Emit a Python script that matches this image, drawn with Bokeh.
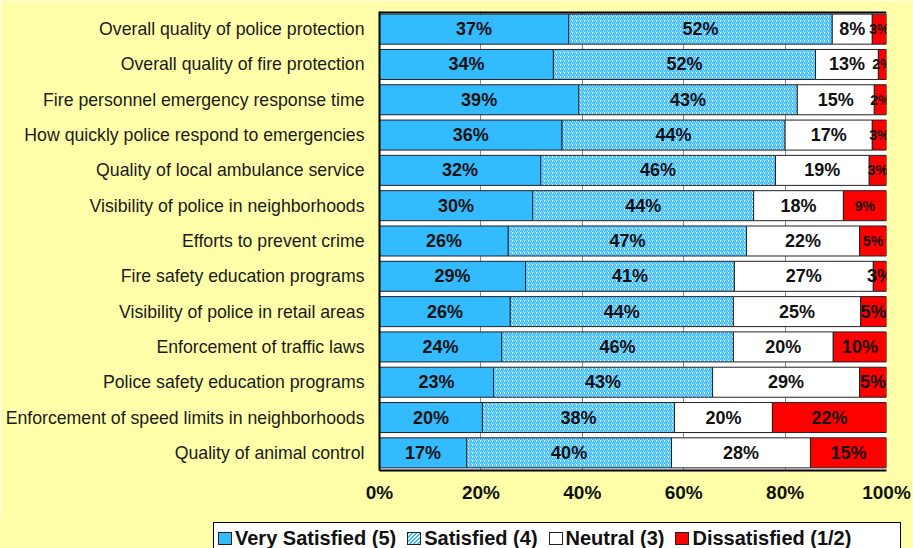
from bokeh.plotting import figure
from bokeh.layouts import column
from bokeh.models import (ColumnDataSource, FactorRange, Range1d, FixedTicker,
                          PrintfTickFormatter, Span, Div)
from bokeh.core.properties import value
from bokeh.embed import file_html
from bokeh.resources import INLINE

# ---------------- data (top row first) ----------------
categories = [
    "Overall quality of police protection",
    "Overall quality of fire protection",
    "Fire personnel emergency response time",
    "How quickly police respond to emergencies",
    "Quality of local ambulance service",
    "Visibility of police in neighborhoods",
    "Efforts to prevent crime",
    "Fire safety education programs",
    "Visibility of police in retail areas",
    "Enforcement of traffic laws",
    "Police safety education programs",
    "Enforcement of speed limits in neighborhoods",
    "Quality of animal control",
]
very_satisfied = [37.3, 34.3, 39.3, 36.0, 31.8, 30.2, 25.4, 28.8, 25.8, 24.1, 22.5, 20.3, 17.2]
satisfied = [52.0, 51.7, 43.1, 44.0, 46.3, 43.6, 47.0, 41.2, 44.0, 45.7, 43.2, 37.9, 40.4]
neutral = [7.9, 12.4, 15.2, 17.2, 18.5, 17.7, 22.3, 27.4, 25.1, 19.7, 29.0, 19.3, 27.4]
dissatisfied = [2.8, 1.6, 2.4, 2.8, 3.4, 8.5, 5.3, 2.6, 5.1, 10.5, 5.3, 22.5, 15.0]

very_satisfied_labels = ["37%", "34%", "39%", "36%", "32%", "30%", "26%", "29%", "26%", "24%", "23%", "20%", "17%"]
satisfied_labels = ["52%", "52%", "43%", "44%", "46%", "44%", "47%", "41%", "44%", "46%", "43%", "38%", "40%"]
neutral_labels = ["8%", "13%", "15%", "17%", "19%", "18%", "22%", "27%", "25%", "20%", "29%", "20%", "28%"]
dissatisfied_labels = ["3%", "2%", "2%", "3%", "3%", "9%", "5%", "3%", "5%", "10%", "5%", "22%", "15%"]

series_names = ["Very Satisfied (5)", "Satisfied (4)", "Neutral (3)", "Dissatisfied (1/2)"]
x_ticks = [0, 20, 40, 60, 80, 100]

# ---------------- styles ----------------
BG = "#FFFFAA"
BLUE = "#33BBFF"
RED = "#FF0000"
FONT = "Liberation Sans"
label_size = "18px"
diss_label_sizes = ["14px"] * 7 + ["18px"] * 6

series = [very_satisfied, satisfied, neutral, dissatisfied]
series_labels = [very_satisfied_labels, satisfied_labels, neutral_labels, dissatisfied_labels]

styles = [
    dict(fill_color=BLUE, line_color="#222222"),
    dict(fill_color="white", line_color="#222222", hatch_pattern="/", hatch_color=BLUE,
         hatch_scale=4, hatch_weight=1.5),
    dict(fill_color="white", line_color="#222222"),
    dict(fill_color=RED, line_color="#222222"),
]
legend_swatch_css = [
    "background:%s;" % BLUE,
    "background:repeating-linear-gradient(135deg,%s 0px,%s 1.3px,#ffffff 1.3px,#ffffff 2.8px);" % (BLUE, BLUE),
    "background:#ffffff;",
    "background:%s;" % RED,
]

# ---------------- main chart ----------------
p = figure(width=913, height=521, output_backend="svg", toolbar_location=None,
           y_range=FactorRange(factors=list(reversed(categories)), range_padding=0),
           x_range=Range1d(0, 100),
           min_border_left=379, min_border_right=27, min_border_top=11, min_border_bottom=51)
p.background_fill_color = "white"
p.border_fill_color = BG
p.outline_line_color = None

left = [0.0] * len(categories)
for k, vals in enumerate(series):
    right = [l + v for l, v in zip(left, vals)]
    mid = [(l + r) / 2 for l, r in zip(left, right)]
    sizes = diss_label_sizes if k == 3 else [label_size] * len(categories)
    src = ColumnDataSource(dict(y=categories, left=left, right=right, mid=mid,
                                txt=series_labels[k], fs=sizes))
    p.hbar(y="y", left="left", right="right", height=0.85, source=src,
           line_width=1, **styles[k])
    p.text(x="mid", y="y", text="txt", source=src, text_align="center",
           text_baseline="middle", text_font=value(FONT), text_font_style="bold",
           text_font_size="fs", text_color="#111111")
    left = right

# top border line of the plot area
p.add_layout(Span(location=len(categories), dimension="width", line_color="black", line_width=4))

p.xaxis.ticker = FixedTicker(ticks=x_ticks)
p.xaxis.formatter = PrintfTickFormatter(format="%d%%")
p.xaxis.major_label_text_font = FONT
p.xaxis.major_label_text_font_style = "bold"
p.xaxis.major_label_text_font_size = "19px"
p.xaxis.major_label_text_color = "#111111"
p.xaxis.major_label_standoff = 5
p.xaxis.major_tick_line_color = None
p.xaxis.minor_tick_line_color = None
p.xaxis.axis_line_width = 2
p.xaxis.axis_line_color = "black"

p.yaxis.major_label_text_font = FONT
p.yaxis.major_label_text_font_size = "17.7px"
p.yaxis.major_label_text_color = "#1a1a1a"
p.yaxis.major_label_standoff = 9
p.yaxis.major_tick_line_color = None
p.yaxis.axis_line_width = 2
p.yaxis.axis_line_color = "black"

p.ygrid.grid_line_color = None
p.xgrid.ticker = FixedTicker(ticks=x_ticks)
p.xgrid.grid_line_color = "#888888"

# ---------------- legend strip ----------------
items_html = "".join(
    '<span style="display:flex;align-items:center;">'
    '<span style="display:inline-block;box-sizing:border-box;width:14px;height:13px;'
    'border:1px solid #222;margin-right:3px;%s"></span>%s</span>' % (css, name)
    for name, css in zip(series_names, legend_swatch_css)
)
legend_html = (
    '<div style="margin:1px 0 0 213px;box-sizing:border-box;width:688px;height:32px;'
    'border:1px solid #000;background:#ffffff;display:flex;align-items:center;'
    'padding-left:4px;gap:11px;font-family:\'Liberation Sans\',Arial,sans-serif;'
    'font-weight:bold;font-size:20px;color:#111111;white-space:nowrap;">%s</div>' % items_html
)
legend_div = Div(text=legend_html, width=913, height=27,
                 styles={"overflow": "hidden", "background-color": BG, "margin": "0",
                         "padding": "0"})

layout = column(p, legend_div, spacing=0)
open("out.html", "w").write(file_html(layout, INLINE))
